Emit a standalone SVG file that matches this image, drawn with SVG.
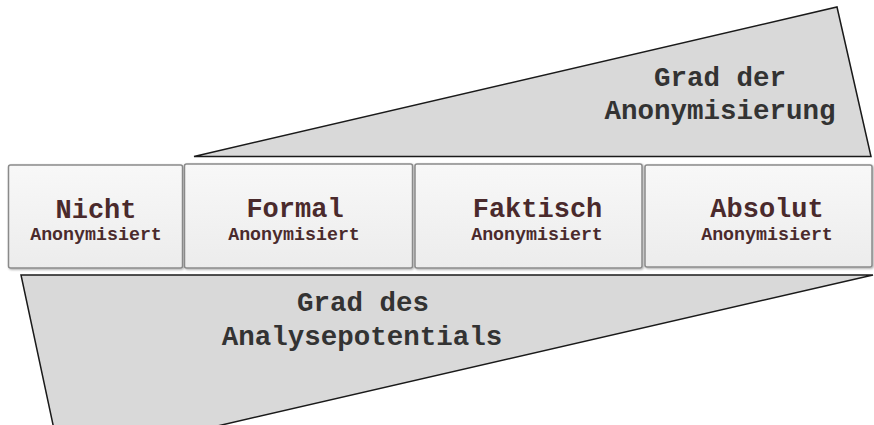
<svg xmlns="http://www.w3.org/2000/svg" width="874" height="425" viewBox="0 0 874 425">
<defs>
<linearGradient id="boxg" x1="0" y1="0" x2="0" y2="1">
<stop offset="0" stop-color="#f8f8f8"/>
<stop offset="1" stop-color="#ececec"/>
</linearGradient>
<filter id="sh" x="-5%" y="-5%" width="110%" height="115%">
<feDropShadow dx="1" dy="1" stdDeviation="1" flood-color="#000" flood-opacity="0.35"/>
</filter>
</defs>
<style>
.wedge{fill:#d9d9d9;stroke:#1a1a1a;stroke-width:1.5;stroke-linejoin:miter}
.box{fill:url(#boxg);stroke:#8a8a8a;stroke-width:1.5;filter:url(#sh)}
.lbl{font-family:"Liberation Mono","DejaVu Sans Mono",monospace;font-weight:bold;font-size:27.5px;fill:#333333;text-anchor:middle}
.t{font-family:"Liberation Mono","DejaVu Sans Mono",monospace;font-weight:bold;font-size:27px;fill:#4a2a2c;text-anchor:middle}
.s{font-family:"Liberation Mono","DejaVu Sans Mono",monospace;font-weight:bold;font-size:18.3px;fill:#4a2a2c;text-anchor:middle}
</style>
<g id="connectors"></g>
<g id="wedge-top">
<polygon class="wedge" points="194,156.5 837,7 871,156.5"/>
<text class="lbl" x="720" y="86">Grad der</text>
<text class="lbl" x="720" y="119">Anonymisierung</text>
</g>
<g id="wedge-bottom">
<polygon class="wedge" points="21,275 873,275 61,462"/>
<text class="lbl" x="363" y="311">Grad des</text>
<text class="lbl" x="362" y="345">Analysepotentials</text>
</g>
<g id="node-nicht">
<rect class="box" x="8.5" y="165" width="174" height="103" rx="2"/>
<text class="t" x="96" y="218">Nicht</text>
<text class="s" x="96" y="240">Anonymisiert</text>
</g>
<g id="node-formal">
<rect class="box" x="184.5" y="164" width="228" height="104" rx="2"/>
<text class="t" x="295" y="217">Formal</text>
<text class="s" x="294" y="240">Anonymisiert</text>
</g>
<g id="node-faktisch">
<rect class="box" x="415" y="164" width="227" height="104" rx="2"/>
<text class="t" x="537.5" y="217">Faktisch</text>
<text class="s" x="537" y="240">Anonymisiert</text>
</g>
<g id="node-absolut">
<rect class="box" x="645" y="165" width="227" height="102" rx="2"/>
<text class="t" x="767" y="217">Absolut</text>
<text class="s" x="767" y="240">Anonymisiert</text>
</g>
</svg>
